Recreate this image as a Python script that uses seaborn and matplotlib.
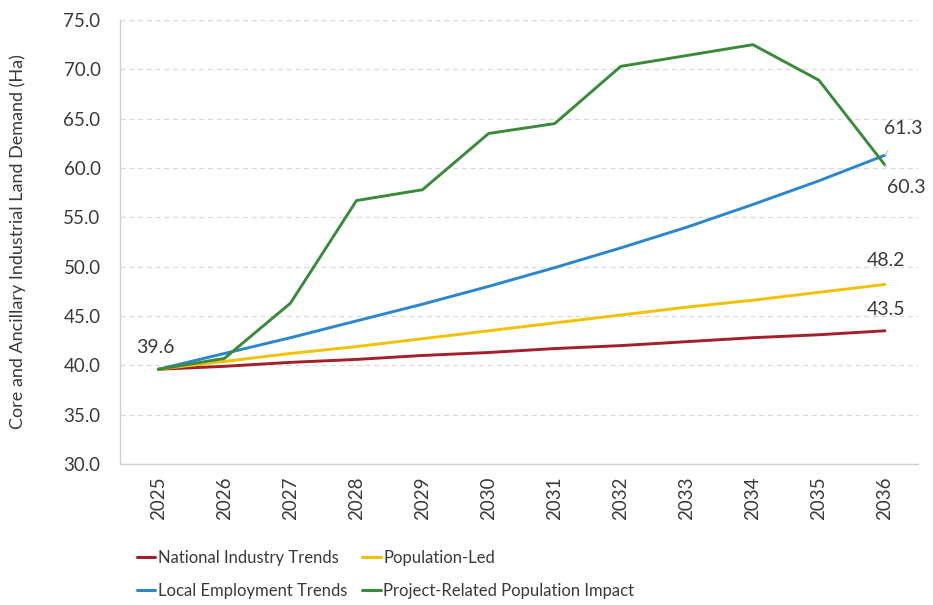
import matplotlib
matplotlib.use("Agg")
import matplotlib.pyplot as plt
import seaborn as sns
import pandas as pd
from matplotlib.lines import Line2D

years = [2025, 2026, 2027, 2028, 2029, 2030, 2031, 2032, 2033, 2034, 2035, 2036]
national = [39.6, 39.9, 40.3, 40.6, 41.0, 41.3, 41.7, 42.0, 42.4, 42.8, 43.1, 43.5]
population = [39.6, 40.4, 41.2, 41.9, 42.7, 43.5, 44.3, 45.1, 45.9, 46.6, 47.4, 48.2]
local = [39.6, 41.2, 42.8, 44.5, 46.2, 48.0, 49.9, 51.9, 54.0, 56.3, 58.7, 61.3]
project = [39.6, 40.7, 46.3, 56.7, 57.8, 63.5, 64.5, 70.3, 71.4, 72.5, 68.9, 60.3]
series_names = ["National Industry Trends", "Local Employment Trends",
                "Population-Led", "Project-Related Population Impact"]
colors = ["#a31f2a", "#2b86d1", "#f2c100", "#3a8a3c"]
yticks = [30, 35, 40, 45, 50, 55, 60, 65, 70, 75]

df = pd.concat([
    pd.DataFrame({"Year": years, "Value": v, "Series": n})
    for n, v in zip(series_names, [national, local, population, project])
])

sns.set_theme(style="white")
plt.rcParams["font.family"] = ["Lato", "DejaVu Sans"]
txt = "#3a3a3a"

fig = plt.figure(figsize=(9.33, 6.05), dpi=100)
ax = fig.add_axes([120 / 933, 1 - 464 / 605, 798 / 933, 444 / 605])

sns.lineplot(data=df, x="Year", y="Value", hue="Series", hue_order=series_names,
             palette=colors, linewidth=2.1, ax=ax, legend=False)

ax.set_xlim(2024.42, 2036.5)
ax.set_ylim(30, 75)
ax.set_yticks(yticks)
ax.set_yticklabels([f"{t:.1f}" for t in yticks], fontsize=13.5, color=txt)
ax.set_xticks(years)
ax.set_xticklabels([str(y) for y in years], rotation=90, fontsize=13.5, color=txt)
ax.tick_params(axis="y", length=0, pad=14)
ax.tick_params(axis="x", length=0, pad=9)
ax.set_xlabel("")
ax.set_ylabel("Core and Ancillary Industrial Land Demand (Ha)", fontsize=13, color=txt, labelpad=27)
ax.yaxis.grid(True, linestyle=(0, (4, 3)), color="#d9d9d9", linewidth=0.9)
ax.xaxis.grid(False)
for s in ["top", "right"]:
    ax.spines[s].set_visible(False)
for s in ["left", "bottom"]:
    ax.spines[s].set_color("#d0d0d0")
    ax.spines[s].set_linewidth(1.0)

ax.text(2024.95, 41.85, "39.6", ha="center", va="center", fontsize=14, color=txt)
ax.annotate("61.3", xy=(2036, 61.3), xytext=(2036.27, 64.0), ha="center", va="center",
            fontsize=14, color=txt, annotation_clip=False,
            arrowprops=dict(arrowstyle="-", color="#c8c8c8", lw=0.9, shrinkA=9, shrinkB=0))
ax.annotate("60.3", xy=(2036, 60.3), xytext=(2036.32, 58.07), ha="center", va="center",
            fontsize=14, color=txt, annotation_clip=False,
            arrowprops=dict(arrowstyle="-", color="#c8c8c8", lw=0.9, shrinkA=9, shrinkB=0))
ax.text(2036.02, 50.67, "48.2", ha="center", va="center", fontsize=14, color=txt)
ax.text(2036.02, 45.7, "43.5", ha="center", va="center", fontsize=14, color=txt)

handles = [Line2D([0], [0], color=c, lw=2.2) for c in colors]
leg = fig.legend(handles, series_names, loc="upper left", bbox_to_anchor=(122 / 933, 1 - 535 / 605),
                 ncol=2, frameon=False, fontsize=12,
                 handlelength=1.1, handletextpad=0.15, columnspacing=0.9, labelspacing=1.0)
for t in leg.get_texts():
    t.set_color(txt)

fig.savefig("out.png", dpi=100)
